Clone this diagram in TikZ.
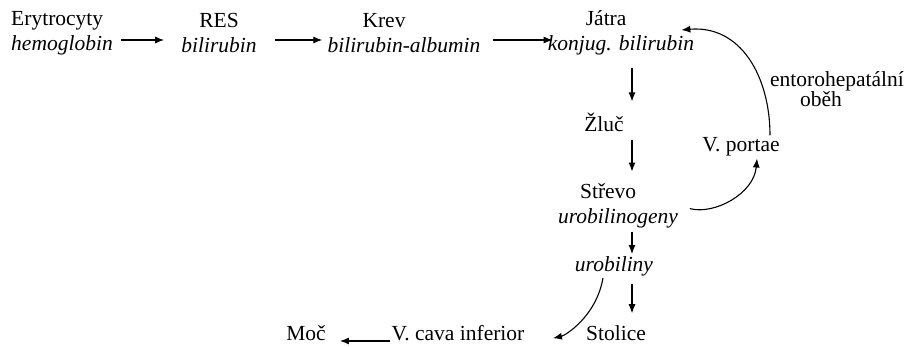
\documentclass[tikz,border=0pt]{standalone}
\usepackage{fontspec}
\setmainfont{Liberation Serif}
\usetikzlibrary{arrows.meta,positioning}
\tikzset{
  stage/.style={align=center, inner sep=2pt, font=\fontsize{21.5}{25}\selectfont},
  flow/.style={-{Latex[length=9pt,width=7pt]}, line width=1.1pt},
}
\begin{document}
\begin{tikzpicture}[x=1pt,y=1pt]
    \useasboundingbox (0,0) rectangle (904,346);
    % top row
    \node[stage, align=left] (ery) at (62,313) {Erytrocyty\\\textit{hemoglobin}};
    \node[stage] (res) at (219,313) {RES\\\textit{bilirubin}};
    \node[stage, align=left] (krev) at (404,313) {\hspace*{35pt}Krev\\\textit{bilirubin-albumin}};
    \node[stage, align=left] (jatra) at (621,313) {\hspace*{38pt}Játra\\\textit{konjug. bilirubin}};
    % column under the liver
    \coordinate (col) at (632,0);
    \node[stage] (zluc) at (604,224) {Žluč};
    \node[stage, align=left] (strevo) at (618,140) {\hspace*{22pt}Střevo\\\textit{urobilinogeny}};
    \node[stage] (urob) at (614,80) {\textit{urobiliny}};
    \node[stage, inner sep=1pt] (stolice) at (616,13) {Stolice};
    % bottom row
    \node[stage, inner sep=1pt] (vcava) at (458,13) {V. cava inferior};
    \node[stage, inner sep=1pt] (moc) at (306,13) {Moč};
    % portal loop
    \node[stage] (vportae) at (741,199) {V. portae};
    \node[stage, align=left, font=\fontsize{21.5}{18}\selectfont] (ento) at (837,257) {entorohepatální\\\hspace*{30pt}oběh};

    \draw[flow, shorten <=6pt, shorten >=15pt] ([yshift=-7pt]ery.east) -- ([yshift=-7pt]res.west);
    \draw[flow, shorten <=16pt, shorten >=3pt] ([yshift=-7pt]res.east) -- ([yshift=-7pt]krev.west);
    \draw[flow, shorten <=10pt, shorten >=-7pt] ([yshift=-7pt]krev.east) -- ([yshift=-7pt]jatra.west);

    \draw[flow, shorten <=11pt, shorten >=9pt] (jatra.south -| col) -- (zluc.north -| col);
    \draw[flow, shorten <=6pt, shorten >=10pt] (zluc.south -| col) -- (strevo.north -| col);
    \draw[flow, shorten <=1pt, shorten >=0pt] (strevo.south -| col) -- (urob.north -| col);
    \draw[flow, shorten <=6pt, shorten >=11pt] (urob.south -| col) -- (stolice.north -| col);

    \draw[flow, shorten <=10pt] (strevo.east) to[out=-15, in=-95] ([xshift=16pt]vportae.south);
    \draw[flow] ([xshift=29pt]vportae.north) to[out=90, in=5, looseness=1.1] ([shift={(-15pt,3pt)}]jatra.east);
    \draw[flow, shorten >=28pt] ([xshift=-11pt]urob.south) to[out=-100, in=12] ([yshift=-11pt]vcava.east);
    \draw[flow, shorten >=13pt] ([yshift=-8pt]vcava.west) -- ([yshift=-8pt]moc.east);
\end{tikzpicture}
\end{document}
